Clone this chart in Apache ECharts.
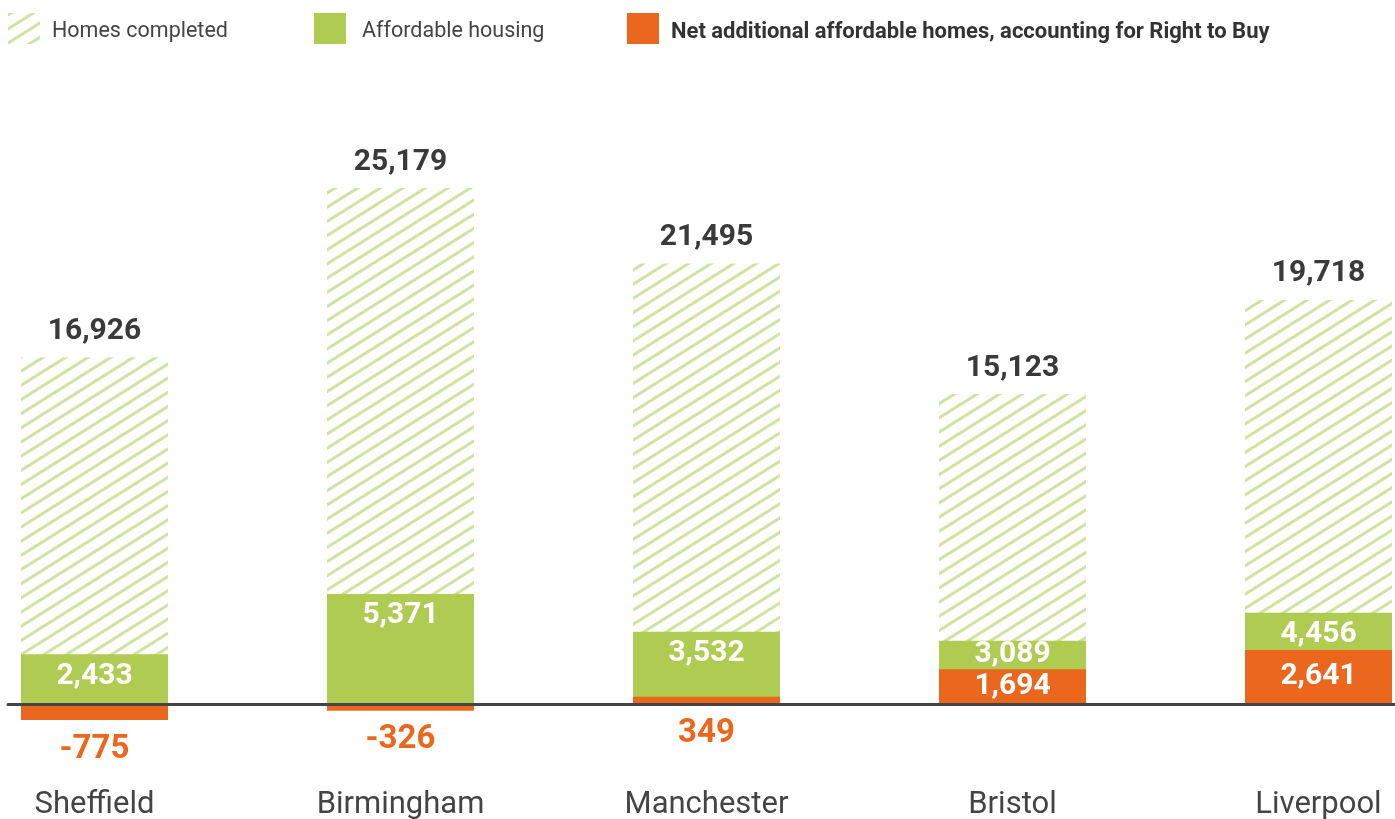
<!DOCTYPE html>
<html>
<head>
<meta charset="utf-8">
<script src="https://cdn.jsdelivr.net/npm/echarts@6/dist/echarts.min.js"></script>
<style>
html,body{margin:0;padding:0;background:#fff;}
#chart{width:1395px;height:819px;}
</style>
</head>
<body>
<div id="chart"></div>
<script>
// ---- data ----
const categories = ['Sheffield', 'Birmingham', 'Manchester', 'Bristol', 'Liverpool'];
const homesCompleted = [16926, 25179, 21495, 15123, 19718];
const affordableHousing = [2433, 5371, 3532, 3089, 4456];
const netAffordable = [-775, -326, 349, 1694, 2641];
const seriesNames = ['Homes completed', 'Affordable housing', 'Net additional affordable homes, accounting for Right to Buy'];

// ---- style constants ----
const GREEN = '#afcb52';
const ORANGE = '#eb671e';
const STRIPE = '#cfe3a3';
const DARK = '#3a3a3a';
const Y_MIN = -4000, Y_MAX = 30000;
const GRID_TOP = 89.2, GRID_BOTTOM = 33;
const FONT = 'Roboto';

const fmt = v => v.toLocaleString('en-US');

const hatch = {
  symbol: 'rect',
  symbolSize: 1,
  color: STRIPE,
  dashArrayX: [1, 0],
  dashArrayY: [3, 9],
  rotation: -Math.PI / 5.6
};

const chart = echarts.init(document.getElementById('chart'), null, {renderer: 'canvas'});

const greenData = affordableHousing.map((v, i) => {
  const band = v - Math.max(netAffordable[i], 0);
  return {value: v, label: {distance: band < 1600 ? -1 : 7}};
});
const orangeData = netAffordable.map(v => ({
  value: v,
  label: {show: v >= 1000}
}));
const outsideData = netAffordable.map((v, i) => v < 1000 ? {value: [i, Math.min(v, 0)], net: v} : null).filter(d => d);

function legendText(padLeft, bold, size) {
  return {
    fontFamily: FONT, fontSize: size, color: bold ? '#333' : '#444',
    rich: {
      t: {fontFamily: FONT, fontSize: size, fontWeight: bold ? 'bold' : 'normal',
          color: bold ? '#333' : '#444', padding: [7, 0, 0, padLeft]}
    }
  };
}

const legendBase = {
  top: 13,
  padding: 0,
  itemWidth: 32,
  itemHeight: 31,
  icon: 'rect',
  selectedMode: false,
  formatter: name => '{t|' + name + '}'
};

chart.setOption({
  animation: false,
  backgroundColor: '#fff',
  legend: [
    Object.assign({}, legendBase, {left: 8, data: [seriesNames[0]], textStyle: legendText(7, false, 21.5)}),
    Object.assign({}, legendBase, {left: 314, data: [seriesNames[1]], textStyle: legendText(11, false, 21.5)}),
    Object.assign({}, legendBase, {left: 627, data: [seriesNames[2]], textStyle: legendText(7, true, 22)})
  ],
  grid: [
    {left: -58.5, right: -76.5, top: GRID_TOP, bottom: GRID_BOTTOM, containLabel: false, outerBoundsMode: 'none'},
    {left: 8, right: 0, top: GRID_TOP, bottom: GRID_BOTTOM, containLabel: false, outerBoundsMode: 'none'}
  ],
  xAxis: [
    {
      gridIndex: 0, type: 'category', data: categories,
      axisLine: {show: false, onZero: false}, axisTick: {show: false},
      axisLabel: {fontFamily: FONT, fontSize: 31, color: '#444', margin: 4}
    },
    {
      gridIndex: 1, type: 'value', min: 0, max: 1, z: 10,
      axisLine: {show: true, onZero: true, lineStyle: {color: '#444', width: 3}},
      axisTick: {show: false}, axisLabel: {show: false}, splitLine: {show: false}
    }
  ],
  yAxis: [
    {gridIndex: 0, type: 'value', min: Y_MIN, max: Y_MAX, show: false},
    {gridIndex: 1, type: 'value', min: Y_MIN, max: Y_MAX, show: false}
  ],
  series: [
    {
      name: seriesNames[0], type: 'bar', data: homesCompleted,
      barWidth: 147, barGap: '-100%',
      itemStyle: {color: '#ffffff', decal: hatch},
      label: {show: true, position: 'top', distance: 11, formatter: p => fmt(p.value),
        fontFamily: FONT, fontSize: 30, fontWeight: 'bold', color: DARK}
    },
    {
      name: seriesNames[1], type: 'bar', data: greenData,
      barWidth: 147, barGap: '-100%',
      itemStyle: {color: GREEN},
      label: {show: true, position: 'insideTop', formatter: p => fmt(p.value),
        fontFamily: FONT, fontSize: 30, fontWeight: 'bold', color: '#fff'}
    },
    {
      name: seriesNames[2], type: 'bar', data: orangeData,
      barWidth: 147, barGap: '-100%',
      itemStyle: {color: ORANGE},
      label: {position: 'inside', formatter: p => fmt(p.value),
        fontFamily: FONT, fontSize: 30, fontWeight: 'bold', color: '#fff'}
    },
    {
      name: 'net-outside', type: 'scatter', data: outsideData,
      symbolSize: 0, silent: true,
      itemStyle: {opacity: 1, color: ORANGE},
      label: {show: true, position: 'bottom', distance: 13,
        formatter: p => fmt(p.data.net),
        fontFamily: FONT, fontSize: 33, fontWeight: 'bold', color: ORANGE}
    }
  ]
});
</script>
</body>
</html>
